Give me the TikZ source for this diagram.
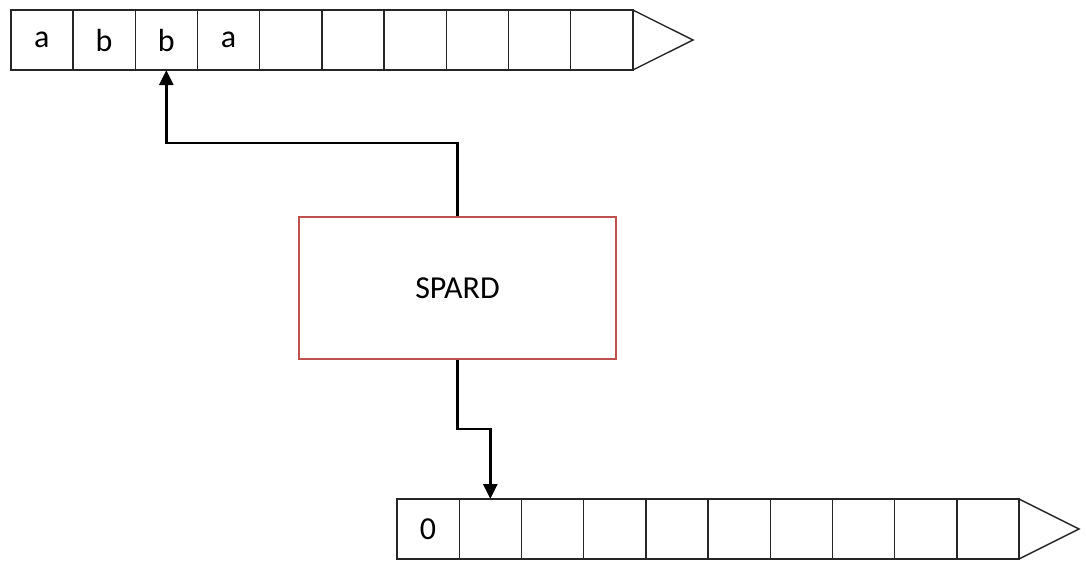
\documentclass[tikz,border=0pt]{standalone}
\usepackage{fontspec}
\setmainfont{Carlito}
\usetikzlibrary{arrows.meta,calc}
\definecolor{boxred}{RGB}{192,80,77}
\tikzset{
  cell/.style={draw=black!85, line width=1.4pt, minimum width=62.2pt, minimum height=60pt, inner sep=0pt, outer sep=0pt},
  celltext/.style={inner sep=0pt, font=\fontsize{32}{38}\selectfont},
  tapeend/.style={draw=black!85, line width=1.4pt},
  arr/.style={line width=2.6pt, -{Triangle[length=15pt,width=14pt]}},
  machine/.style={draw=boxred, line width=1.4pt, minimum width=317pt, minimum height=142pt, inner sep=0pt, font=\fontsize{32}{38}\selectfont}
}
\begin{document}
\begin{tikzpicture}[x=1pt,y=-1pt]
\useasboundingbox (0,0) rectangle (1086,560);
% top tape
\foreach \i in {1,...,10}{
  \node[cell] (t\i) at ({10.8+62.2*(\i-1)+31.1},40) {};
}
\coordinate (ttip) at (693,40);
\draw[tapeend] (t10.north east) -- (ttip) -- (t10.south east);
\node[celltext] (ta1) at (t1.center) {a};
\node[celltext] (ta2) at (t2.center) {b};
\node[celltext] (ta3) at (t3.center) {b};
\node[celltext] (ta4) at (t4.center) {a};
% machine
\node[machine] (spard) at (457.5,288) {SPARD};
% bottom tape
\foreach \i in {1,...,10}{
  \node[cell] (b\i) at ({397+62.2*(\i-1)+31.1},529) {};
}
\coordinate (btip) at (1079,529);
\draw[tapeend] (b10.north east) -- (btip) -- (b10.south east);
\node[celltext] (b0) at (b1.center) {0};
% connectors
\draw[arr] (spard.north) -- (spard.north |- 0,143) -| (t3.south);
\draw[arr] (spard.south) -- (spard.south |- 0,429) -| (b2.north);
\end{tikzpicture}
\end{document}
